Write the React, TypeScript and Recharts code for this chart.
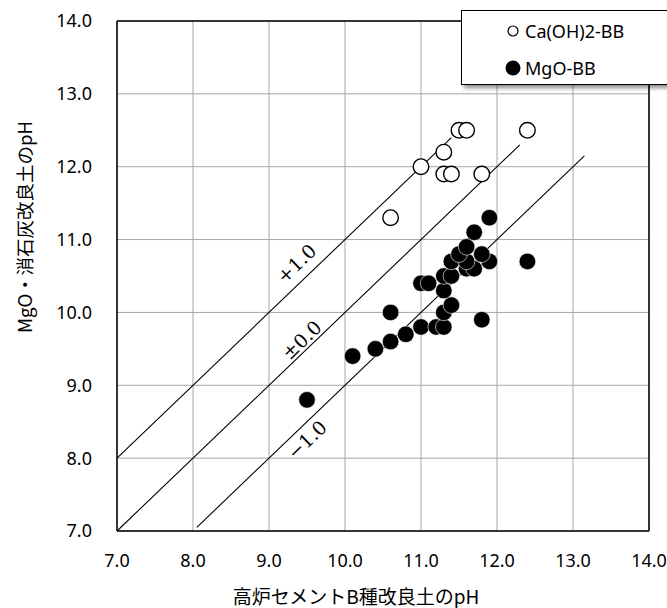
import React from 'react';
import {
  ScatterChart,
  Scatter,
  XAxis,
  YAxis,
  CartesianGrid,
  ReferenceLine,
  ReferenceDot,
  Legend,
} from 'recharts';

// ---- data ----
const axisTicks = [7, 8, 9, 10, 11, 12, 13, 14];

const caOhX = [11.5, 11.6, 12.4, 11.3, 11.0, 11.3, 11.4, 11.8, 10.6];
const caOhY = [12.5, 12.5, 12.5, 12.2, 12.0, 11.9, 11.9, 11.9, 11.3];

const mgoX = [9.5, 10.1, 10.4, 10.6, 10.8, 11.0, 11.2, 11.3, 11.8, 10.6, 11.3, 11.4, 11.3, 11.0, 11.1, 11.3, 11.4, 11.6, 11.7, 11.4, 11.6, 11.9, 12.4, 11.5, 11.8, 11.6, 11.7, 11.9];
const mgoY = [8.8, 9.4, 9.5, 9.6, 9.7, 9.8, 9.8, 9.8, 9.9, 10.0, 10.0, 10.1, 10.3, 10.4, 10.4, 10.5, 10.5, 10.6, 10.6, 10.7, 10.7, 10.7, 10.7, 10.8, 10.8, 10.9, 11.1, 11.3];

const seriesNames = ['Ca(OH)2-BB', 'MgO-BB'];

// guide lines y = x + offset
const guideOffsets = [1, 0, -1];
const guideStartX = [7, 7, 8.05];
const guideEndX = [11.4, 12.3, 13.15];
const guideLabels = ['+1.0', '±0.0', '−1.0'];
const guideLabelX = [9.36, 9.43, 9.5];
const guideLabelY = [10.67, 9.62, 8.25];

const xTitle = '高炉セメントB種改良土のpH';
const yTitle = 'MgO・消石灰改良土のpH';

const caOhData = caOhX.map((x, i) => ({ x, y: caOhY[i] }));
const mgoData = mgoX.map((x, i) => ({ x, y: mgoY[i] }));

const tickFont = { fontFamily: 'Noto Sans, sans-serif', fontSize: 18, fill: '#000' };
const cjkFont = "'Noto Sans CJK JP', sans-serif";

const OpenDot = (p: any) => (
  <circle cx={p.cx} cy={p.cy} r={7.8} fill="#fff" stroke="#000" strokeWidth={1.4} />
);
const FilledDot = (p: any) => (
  <circle cx={p.cx} cy={p.cy} r={8.3} fill="#000" stroke="#fff" strokeWidth={0.6} />
);

const LegendBox = () => (
  <div
    style={{
      width: 240,
      height: 75,
      boxSizing: 'border-box',
      border: '1px solid #000',
      background: '#fff',
      boxShadow: '3px 3px 4px rgba(0,0,0,0.45)',
      position: 'relative',
      fontFamily: 'Noto Sans, sans-serif',
      fontSize: 18,
      color: '#000',
    }}
  >
    {seriesNames.map((name, i) => (
      <div
        key={name}
        style={{ position: 'absolute', left: 40, top: i === 0 ? 7 : 44, height: 26, display: 'flex', alignItems: 'center' }}
      >
        <svg width={20} height={20} style={{ marginRight: 3 }}>
          {i === 0 ? (
            <circle cx={11} cy={10} r={5} fill="#fff" stroke="#000" strokeWidth={1.2} />
          ) : (
            <circle cx={11} cy={10} r={7.5} fill="#000" />
          )}
        </svg>
        <span>{name}</span>
      </div>
    ))}
  </div>
);

export default function App() {
  return (
    <div style={{ position: 'absolute', left: 0, top: 0, width: 667, height: 608, overflow: 'hidden', background: '#fff' }}>
      <ScatterChart width={667} height={608} margin={{ top: 21, right: 18, bottom: 47, left: 57 }}>
        <CartesianGrid stroke="#a6a6a6" strokeWidth={1} />
        <XAxis
          type="number"
          dataKey="x"
          domain={[7, 14]}
          ticks={axisTicks}
          allowDataOverflow
          height={30}
          tickSize={0}
          tickMargin={23}
          tickFormatter={(v: number) => v.toFixed(1)}
          tick={tickFont}
          axisLine={{ stroke: '#000', strokeWidth: 1.5 }}
          tickLine={false}
          label={{
            value: xTitle,
            content: () => (
              <text x={356} y={595} textAnchor="middle" dominantBaseline="central" fontFamily={cjkFont} fontSize={19} fill="#000">
                {xTitle}
              </text>
            ),
          }}
        />
        <YAxis
          type="number"
          dataKey="y"
          domain={[7, 14]}
          ticks={axisTicks}
          allowDataOverflow
          width={60}
          tickSize={0}
          tickMargin={25}
          tickFormatter={(v: number) => v.toFixed(1)}
          tick={tickFont}
          axisLine={{ stroke: '#000', strokeWidth: 1.5 }}
          tickLine={false}
          label={{
            value: yTitle,
            content: () => (
              <text
                x={24}
                y={227}
                transform="rotate(-90 24 227)"
                textAnchor="middle"
                dominantBaseline="central"
                fontFamily={cjkFont}
                fontSize={18.5}
                fill="#000"
              >
                {yTitle}
              </text>
            ),
          }}
        />
        <ReferenceLine y={14} stroke="#000" strokeWidth={1.5} />
        <ReferenceLine x={14} stroke="#000" strokeWidth={1.5} />
        {guideOffsets.map((o, i) => (
          <ReferenceLine
            key={'g' + i}
            segment={[
              { x: guideStartX[i], y: guideStartX[i] + o },
              { x: guideEndX[i], y: guideEndX[i] + o },
            ]}
            stroke="#000"
            strokeWidth={1.1}
          />
        ))}
        {guideLabels.map((t, i) => (
          <ReferenceDot
            key={'l' + i}
            x={guideLabelX[i]}
            y={guideLabelY[i]}
            r={0}
            fill="none"
            stroke="none"
            label={{
              value: t,
              position: 'center',
              angle: -44,
              fontFamily: 'DejaVu Serif, serif',
              fontSize: 19,
              fill: '#000',
            }}
          />
        ))}
        <Scatter name={seriesNames[1]} data={mgoData} shape={FilledDot} isAnimationActive={false} />
        <Scatter name={seriesNames[0]} data={caOhData} shape={OpenDot} isAnimationActive={false} />
        <Legend
          layout="vertical"
          align="center"
          verticalAlign="middle"
          content={() => <LegendBox />}
          wrapperStyle={{ position: 'absolute', left: 461, top: 10, width: 240, height: 75 }}
        />
      </ScatterChart>
    </div>
  );
}
